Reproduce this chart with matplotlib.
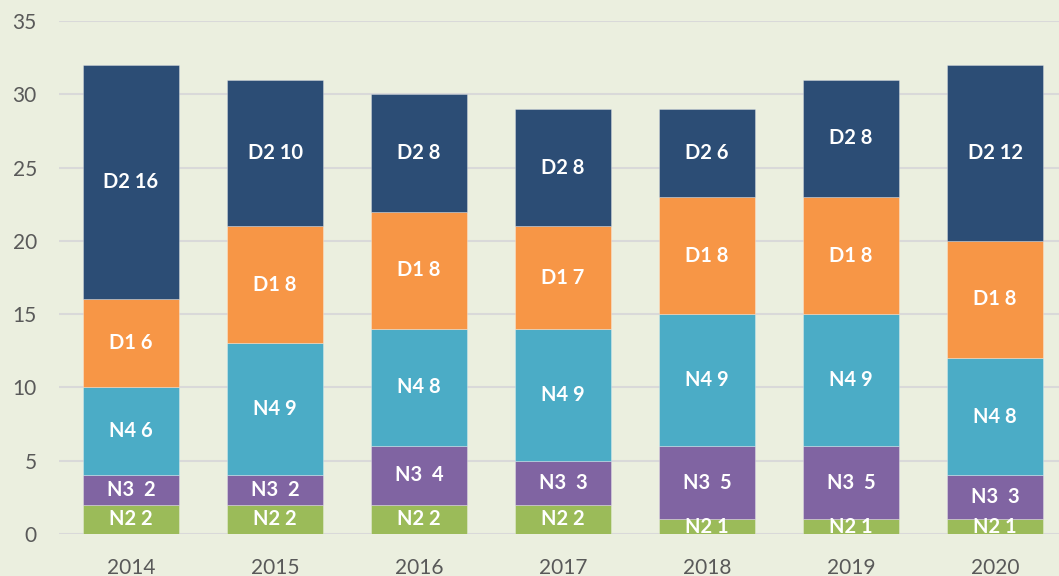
import matplotlib
matplotlib.use("Agg")
import matplotlib.pyplot as plt
import numpy as np

years = ["2014", "2015", "2016", "2017", "2018", "2019", "2020"]
series_names = ["N2", "N3", "N4", "D1", "D2"]
n2 = [2, 2, 2, 2, 1, 1, 1]
n3 = [2, 2, 4, 3, 5, 5, 3]
n4 = [6, 9, 8, 9, 9, 9, 8]
d1 = [6, 8, 8, 7, 8, 8, 8]
d2 = [16, 10, 8, 8, 6, 8, 12]
series_values = [n2, n3, n4, d1, d2]
label_sep = {"N2": " ", "N3": "  ", "N4": " ", "D1": " ", "D2": " "}
colors = ["#9BBB59", "#8064A2", "#4BACC6", "#F79646", "#2C4D75"]
bg = "#EBEFDF"

plt.rcParams['font.family'] = ['Lato', 'DejaVu Sans']

fig = plt.figure(figsize=(10.59, 5.76), dpi=100, facecolor=bg)
ax = fig.add_axes([59/1059, 42/576, 1 - 59/1059, (534-21)/576])
ax.set_facecolor(bg)

x = np.arange(len(years))
bottom = np.zeros(len(years))
for name, vals, col in zip(series_names, series_values, colors):
    vals = np.array(vals, dtype=float)
    ax.bar(x, vals, 0.667, bottom=bottom, color=col, edgecolor=(1, 1, 1, 0.35),
           linewidth=0.6, zorder=2)
    for xi, b, v in zip(x, bottom, vals):
        ax.text(xi, b + v / 2, f"{name}{label_sep[name]}{int(v)}", ha="center",
                va="center", color="white", fontsize=14.5, fontweight="bold",
                zorder=3, clip_on=True)
    bottom += vals

ax.set_ylim(0, 35)
ax.set_xlim(-0.5, -0.5 + 1000/144)
ax.set_yticks(range(0, 36, 5))
ax.set_xticks(x)
ax.set_xticklabels(years)
ax.yaxis.grid(True, color="#D9D9D9", linewidth=1.5, zorder=0)
ax.set_axisbelow(True)
for s in ax.spines.values():
    s.set_visible(False)
ax.tick_params(axis="both", length=0, labelsize=15, labelcolor="#595959")
ax.tick_params(axis="x", pad=17)
ax.tick_params(axis="y", pad=16)

fig.savefig("out.png", dpi=100, facecolor=bg)
